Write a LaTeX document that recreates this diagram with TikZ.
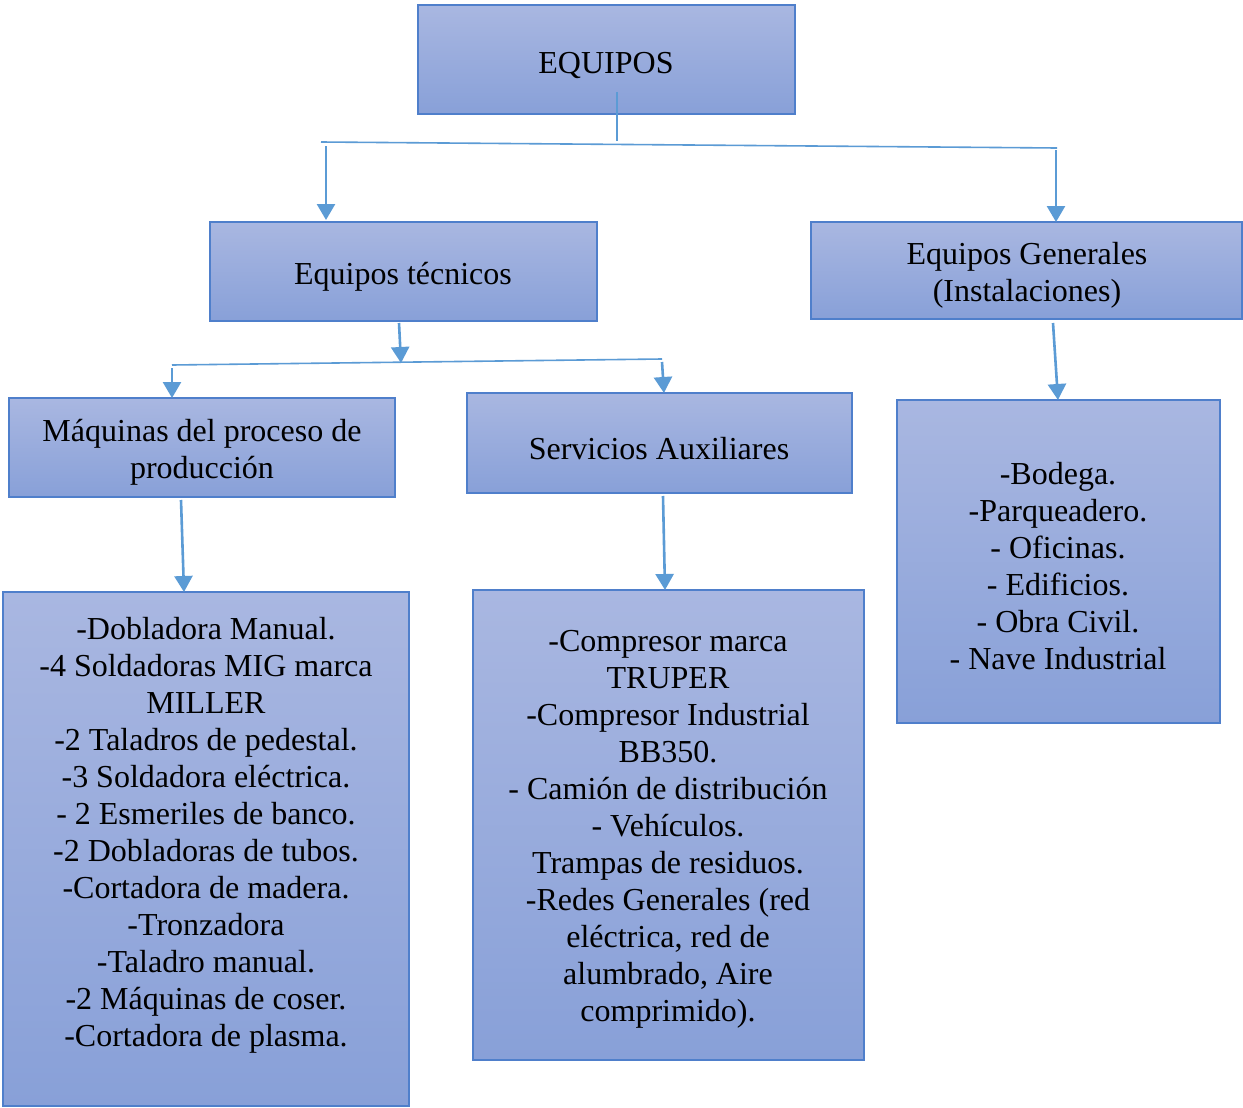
\documentclass[tikz,border=0pt]{standalone}
\usepackage{fontspec}
\setmainfont{Liberation Serif}
\usetikzlibrary{arrows.meta,fit}
\definecolor{boxtop}{RGB}{169,183,225}
\definecolor{boxbot}{RGB}{136,160,216}
\definecolor{boxline}{RGB}{79,127,203}
\definecolor{wire}{RGB}{91,155,213}
\tikzset{
  panel/.style={draw=boxline, line width=0.8pt, top color=boxtop, bottom color=boxbot, inner sep=0pt},
  caption/.style={font=\fontsize{16}{18.5}\selectfont, align=center, inner sep=0pt, yshift=-1.5pt},
  bar/.style={draw=wire, line width=0.8pt},
  feed/.style={draw=wire, line width=1.3pt, -{Triangle[length=8pt,width=9pt]}},
}
\begin{document}
\begin{tikzpicture}[x=0.5pt,y=-0.5pt]
\useasboundingbox[fill=white] (0,0) rectangle (1243,1108);

% boxes
\node[panel, fit={(418,5) (795,114)}] (root) {};
\node[panel, fit={(210,222) (597,321)}] (tech) {};
\node[panel, fit={(811,222) (1242,319)}] (gen) {};
\node[panel, fit={(9,398) (395,497)}] (maq) {};
\node[panel, fit={(467,393) (852,493)}] (serv) {};
\node[panel, fit={(3,592) (409,1106)}] (maqlist) {};
\node[panel, fit={(473,590) (864,1060)}] (servlist) {};
\node[panel, fit={(897,400) (1220,723)}] (genlist) {};

% texts
\node[caption] (troot) at (606,62) {EQUIPOS};
\node[caption] (ttech) at (403,274) {Equipos técnicos};
\node[caption] (tgen) at (1027,272) {Equipos Generales\\(Instalaciones)};
\node[caption] (tmaq) at (202,449) {Máquinas del proceso de\\producción};
\node[caption] (tserv) at (659,446) {Servicios Auxiliares};
\node[caption] (tmaqlist) at (206,832) {-Dobladora Manual.\\-4 Soldadoras MIG marca\\MILLER\\-2 Taladros de pedestal.\\-3 Soldadora eléctrica.\\- 2 Esmeriles de banco.\\-2 Dobladoras de tubos.\\-Cortadora de madera.\\-Tronzadora\\-Taladro manual.\\-2 Máquinas de coser.\\-Cortadora de plasma.};
\node[caption] (tservlist) at (668,826) {-Compresor marca\\TRUPER\\-Compresor Industrial\\BB350.\\- Camión de distribución\\- Vehículos.\\Trampas de residuos.\\-Redes Generales (red\\eléctrica, red de\\alumbrado, Aire\\comprimido).};
\node[caption] (tgenlist) at (1058,563) {-Bodega.\\-Parqueadero.\\- Oficinas.\\- Edificios.\\- Obra Civil.\\- Nave Industrial};

% connector points
\coordinate (s0) at (617,92);
\coordinate (s1) at (617,141);
\coordinate (b0l) at (321,142);
\coordinate (b0r) at (1057,148);
\coordinate (a1) at (326,146);
\coordinate (a1e) at (326,220);
\coordinate (a2) at (1056,150);
\coordinate (a2e) at (1056,222);
\coordinate (s2) at (399,323);
\coordinate (s2e) at (401,363);
\coordinate (b1l) at (172,365);
\coordinate (b1r) at (662,359);
\coordinate (a3) at (172,368);
\coordinate (a3e) at (172,398);
\coordinate (a4) at (662,362);
\coordinate (a4e) at (664,393);
\coordinate (a5) at (181,500);
\coordinate (a5e) at (184,592);
\coordinate (a6) at (663,496);
\coordinate (a6e) at (665,590);
\coordinate (a7) at (1053,323);
\coordinate (a7e) at (1058,400);

% connectors
\draw[bar] (s0) -- (s1);
\draw[bar] (b0l) -- (b0r);
\draw[feed] (a1) -- (a1e);
\draw[feed] (a2) -- (a2e);
\draw[feed] (s2) -- (s2e);
\draw[bar] (b1l) -- (b1r);
\draw[feed] (a3) -- (a3e);
\draw[feed] (a4) -- (a4e);
\draw[feed] (a5) -- (a5e);
\draw[feed] (a6) -- (a6e);
\draw[feed] (a7) -- (a7e);
\end{tikzpicture}
\end{document}
